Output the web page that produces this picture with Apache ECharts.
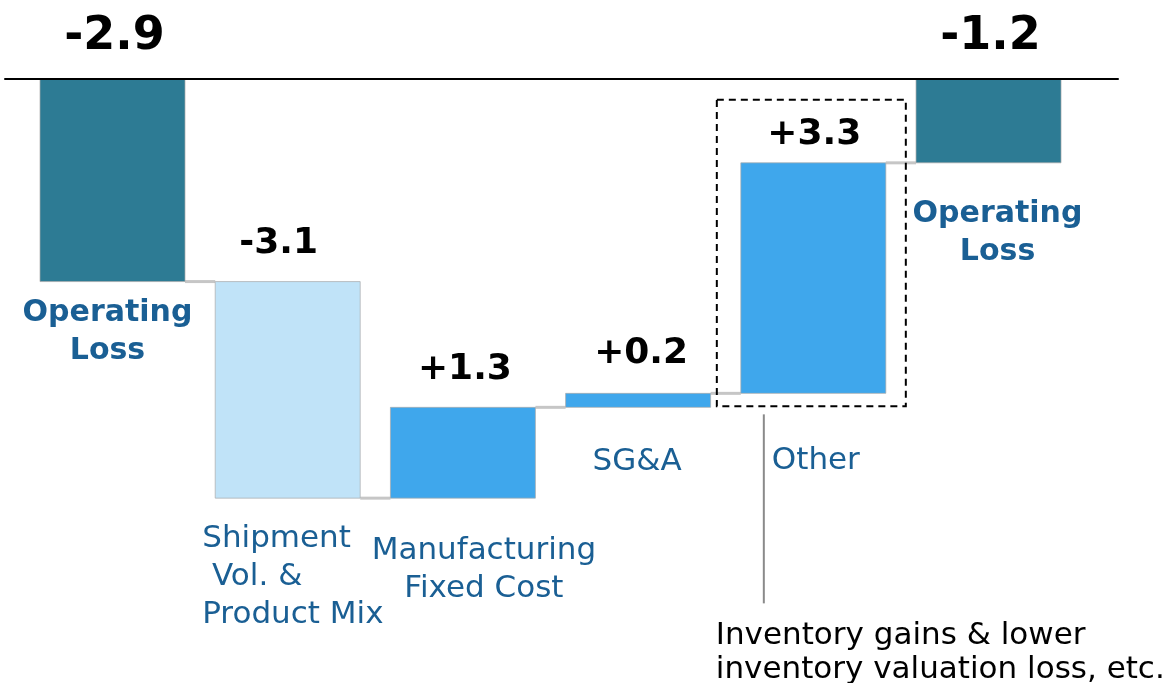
<!DOCTYPE html>
<html>
<head>
<meta charset="utf-8">
<script src="https://cdn.jsdelivr.net/npm/echarts@6/dist/echarts.min.js"></script>
<style>
  html, body { margin: 0; padding: 0; background: #fff; }
  #chart { width: 1165px; height: 683px; }
</style>
</head>
<body>
<div id="chart"></div>
<script>
// waterfall data
var categories = ["Operating\nLoss", "Shipment\n Vol. &\nProduct Mix", "Manufacturing\nFixed Cost", "SG&A", "Other", "Operating\nLoss"];
var changes = [-2.9, -3.1, 1.3, 0.2, 3.3, -1.2];
var kinds = ["total", "delta", "delta", "delta", "delta", "total"];
var valueLabels = ["-2.9", "-3.1", "+1.3", "+0.2", "+3.3", "-1.2"];
var annotation = "Inventory gains & lower\ninventory valuation loss, etc.";

// start / end of each bar
var rows = [];
var level = 0;
for (var i = 0; i < changes.length; i++) {
  var start = kinds[i] === "total" ? 0 : level;
  var end = start + changes[i];
  rows.push([i, start, end]);
  level = end;
}

var FONT = '"DejaVu Sans", Verdana, sans-serif';
var BLUE_TEXT = "#1a5f94";

// label placement (styling only)
var catLayout = [
  { align: "center", dx: -5, dy: 13, bold: true },
  { align: "left", dx: -13, dy: 22 },
  { align: "center", dx: 21, dy: 34 },
  { align: "center", dx: -1, dy: 36 },
  { align: "left", dx: 31, dy: 49 },
  { align: "center", dx: 9, dy: 32, bold: true }
];
var valLayout = [
  { dx: 2, dy: -42, size: 46 },
  { dx: -9, dy: -38, size: 36 },
  { dx: 2, dy: -38, size: 36 },
  { dx: 3, dy: -40, size: 36 },
  { dx: 1, dy: -28, size: 36 },
  { dx: 2, dy: -42, size: 46 }
];

var BAR_RATIO = 0.8276;

function barColor(i) {
  if (kinds[i] === "total") return "#2d7b94";
  return changes[i] < 0 ? "#c0e3f8" : "#3fa7ec";
}

function renderItem(params, api) {
  var i = api.value(0);
  var p0 = api.coord([i, api.value(1)]);
  var p1 = api.coord([i, api.value(2)]);
  var w = api.size([BAR_RATIO, 0])[0];
  var left = p0[0] - w / 2;
  var top = Math.min(p0[1], p1[1]);
  var bottom = Math.max(p0[1], p1[1]);
  var children = [];

  // connector to next bar
  if (i < rows.length - 1) {
    var nx = api.coord([i + 1, 0])[0] - w / 2;
    children.push({
      type: "line",
      shape: { x1: left + w, y1: p1[1], x2: nx, y2: p1[1] },
      style: { stroke: "#c6c6c6", lineWidth: 3 }
    });
  }

  children.push({
    type: "rect",
    shape: { x: left, y: top, width: w, height: bottom - top },
    style: { fill: barColor(i), stroke: "rgba(170,170,170,0.7)", lineWidth: 1 }
  });

  var vl = valLayout[i];
  children.push({
    type: "text",
    style: {
      text: valueLabels[i],
      x: p0[0] + vl.dx, y: top + vl.dy,
      align: "center", verticalAlign: "middle",
      fontFamily: FONT, fontWeight: "bold", fontSize: vl.size, fill: "#000"
    }
  });

  var cl = catLayout[i];
  children.push({
    type: "text",
    style: {
      text: categories[i],
      x: (cl.align === "left" ? left : p0[0]) + cl.dx,
      y: bottom + cl.dy,
      align: cl.align, verticalAlign: "top",
      fontFamily: FONT, fontWeight: cl.bold ? "bold" : "normal",
      fontSize: cl.bold ? 30 : 31, lineHeight: 38, fill: BLUE_TEXT
    }
  });

  // highlight box + note on "Other"
  if (i === 4) {
    children.push({
      type: "rect",
      shape: { x: left - 24, y: top - 63, width: w + 44, height: bottom - top + 76 },
      style: { fill: "none", stroke: "#000", lineWidth: 2, lineDash: [7, 5] }
    });
    children.push({
      type: "line",
      shape: { x1: left + 23, y1: bottom + 21, x2: left + 23, y2: bottom + 210 },
      style: { stroke: "#8a8a8a", lineWidth: 2 }
    });
    children.push({
      type: "text",
      style: {
        text: annotation,
        x: left - 25, y: bottom + 226,
        align: "left", verticalAlign: "top",
        fontFamily: FONT, fontSize: 31, lineHeight: 34, fill: "#000"
      }
    });
  }

  return { type: "group", children: children };
}

var chart = echarts.init(document.getElementById("chart"));
chart.setOption({
  animation: false,
  grid: { left: 5, right: 47, top: 79, bottom: 115 },
  xAxis: {
    type: "value",
    min: -0.6136,
    max: 5.739,
    position: "top",
    z: 10,
    axisLine: { show: true, onZero: false, lineStyle: { color: "#000", width: 2 } },
    axisTick: { show: false },
    axisLabel: { show: false },
    splitLine: { show: false }
  },
  yAxis: {
    type: "value",
    min: -7,
    max: 0,
    show: false,
    splitLine: { show: false }
  },
  series: [{
    type: "custom",
    renderItem: renderItem,
    clip: false,
    data: rows,
    encode: { x: 0, y: [1, 2] }
  }]
});
</script>
</body>
</html>
